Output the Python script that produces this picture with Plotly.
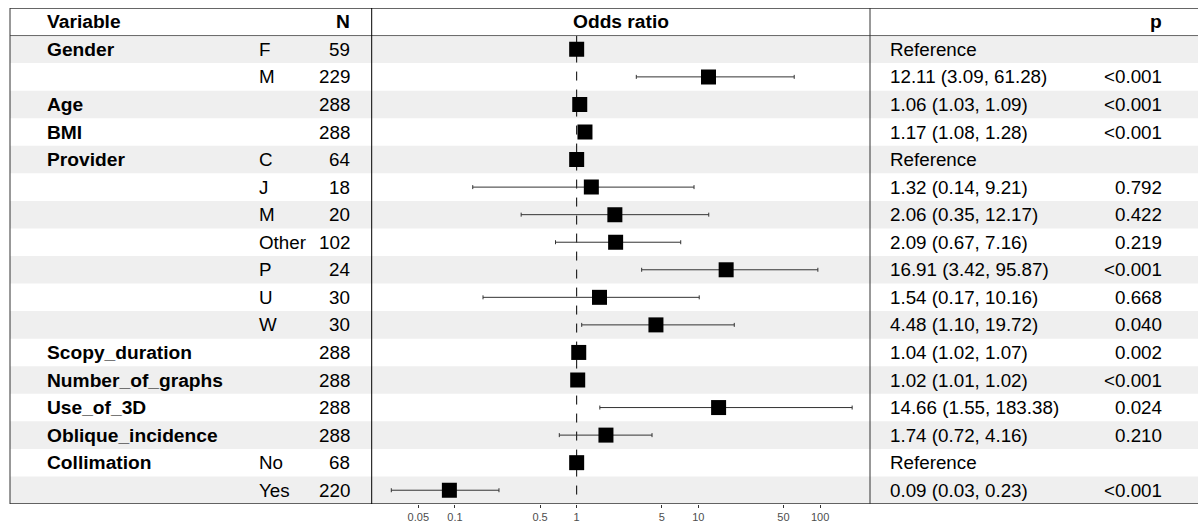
import plotly.graph_objects as go
import numpy as np

# ---------------- data ----------------
variables = ["Gender", "", "Age", "BMI", "Provider", "", "", "", "", "", "",
             "Scopy_duration", "Number_of_graphs", "Use_of_3D", "Oblique_incidence",
             "Collimation", ""]
levels = ["F", "M", "", "", "C", "J", "M", "Other", "P", "U", "W",
          "", "", "", "", "No", "Yes"]
n_values = [59, 229, 288, 288, 64, 18, 20, 102, 24, 30, 30, 288, 288, 288, 288, 68, 220]
is_reference = [True, False, False, False, True, False, False, False, False, False, False,
                False, False, False, False, True, False]
estimates = [1, 12.11, 1.06, 1.17, 1, 1.32, 2.06, 2.09, 16.91, 1.54, 4.48,
             1.04, 1.02, 14.66, 1.74, 1, 0.09]
ci_low = [1, 3.09, 1.03, 1.08, 1, 0.14, 0.35, 0.67, 3.42, 0.17, 1.10,
          1.02, 1.01, 1.55, 0.72, 1, 0.03]
ci_high = [1, 61.28, 1.09, 1.28, 1, 9.21, 12.17, 7.16, 95.87, 10.16, 19.72,
           1.07, 1.02, 183.38, 4.16, 1, 0.23]
p_values = ["", "<0.001", "<0.001", "<0.001", "", "0.792", "0.422", "0.219", "<0.001",
            "0.668", "0.040", "0.002", "<0.001", "0.024", "0.210", "", "<0.001"]
tick_values = [0.05, 0.1, 0.5, 1, 5, 10, 50, 100]
tick_labels = ["0.05", "0.1", "0.5", "1", "5", "10", "50", "100"]
headers = {"variable": "Variable", "n": "N", "or": "Odds ratio", "p": "p"}

# ---------------- layout constants ----------------
W, H = 1198, 524
nrows = len(estimates)
rows_y = [-(i + 1) for i in range(nrows)]
FONT = "Liberation Sans, Arial, sans-serif"
FS = 18.8
FS_B = 19.2
LINE = "#333333"

def px(x):
    return x / W

x_var, x_lvl, x_n, x_est, x_p = px(45), px(257), px(352), px(888), px(1164)
panel_l, panel_r = px(371.7), px(870)

est_text = []
for i in range(nrows):
    if is_reference[i]:
        est_text.append("Reference")
    else:
        est_text.append(f"{estimates[i]:.2f} ({ci_low[i]:.2f}, {ci_high[i]:.2f})")

err_plus = [h - e for h, e in zip(ci_high, estimates)]
err_minus = [e - l for e, l in zip(estimates, ci_low)]

fig = go.Figure()

# reference dashed line at OR = 1
fig.add_trace(go.Scatter(
    x=[1, 1], y=[-0.5, -(nrows + 0.5)], mode="lines",
    line=dict(color="black", width=1, dash="dash"),
    hoverinfo="skip", showlegend=False))

fig.add_trace(go.Scatter(
    x=estimates, y=rows_y, mode="markers",
    marker=dict(symbol="square", size=15, color="black", line=dict(width=0)),
    error_x=dict(type="data", symmetric=False, array=err_plus, arrayminus=err_minus,
                 color=LINE, thickness=1, width=2),
    showlegend=False))

shapes = []
# shaded rows
for i, y in enumerate(rows_y):
    if i % 2 == 0:
        shapes.append(dict(type="rect", xref="paper", yref="y", x0=px(10), x1=1.0,
                           y0=y - 0.5, y1=y + 0.5, fillcolor="#EFEFEF",
                           line=dict(width=0), layer="below"))
# borders
shapes += [
    dict(type="line", xref="paper", yref="y", x0=px(10), x1=1.0, y0=0.5, y1=0.5,
         line=dict(color=LINE, width=1.5)),
    dict(type="line", xref="paper", yref="y", x0=px(10), x1=1.0, y0=-0.5, y1=-0.5,
         line=dict(color="#666666", width=1)),
    dict(type="line", xref="paper", yref="y", x0=px(10), x1=1.0,
         y0=-(nrows + 0.5), y1=-(nrows + 0.5), line=dict(color=LINE, width=1.5)),
    dict(type="line", xref="paper", yref="y", x0=px(10), x1=px(10),
         y0=0.5, y1=-(nrows + 0.5), line=dict(color=LINE, width=1)),
    dict(type="line", xref="paper", yref="y", x0=panel_l, x1=panel_l,
         y0=0.5, y1=-(nrows + 0.5), line=dict(color="black", width=1)),
    dict(type="line", xref="paper", yref="y", x0=panel_r, x1=panel_r,
         y0=0.5, y1=-(nrows + 0.5), line=dict(color=LINE, width=1)),
]

annotations = []
def txt(x, y, s, anchor, bold=False):
    annotations.append(dict(
        x=x, y=y, xref="paper", yref="y", text=f"<b>{s}</b>" if bold else s,
        showarrow=False, xanchor=anchor, yanchor="middle",
        font=dict(family=FONT, size=FS_B if bold else FS, color="black")))

# headers
txt(x_var, 0, headers["variable"], "left", True)
txt(x_n, 0, headers["n"], "right", True)
txt((panel_l + panel_r) / 2, 0, headers["or"], "center", True)
txt(x_p, 0, headers["p"], "right", True)

for i, y in enumerate(rows_y):
    if variables[i]:
        txt(x_var, y, variables[i], "left", True)
    if levels[i]:
        txt(x_lvl, y, levels[i], "left")
    txt(x_n, y, str(n_values[i]), "right")
    txt(x_est, y, est_text[i], "left")
    if p_values[i]:
        txt(x_p, y, p_values[i], "right")

xmin, xmax = 10 ** -1.684, 10 ** 2.410
fig.update_layout(
    width=W, height=H,
    margin=dict(l=0, r=0, t=8, b=20),
    paper_bgcolor="white", plot_bgcolor="rgba(0,0,0,0)",
    shapes=shapes, annotations=annotations,
    xaxis=dict(type="log", domain=[panel_l, panel_r],
               range=[np.log10(xmin), np.log10(xmax)],
               tickvals=tick_values, ticktext=tick_labels,
               ticks="outside", ticklen=3, tickcolor=LINE,
               tickfont=dict(family=FONT, size=11, color="#4D4D4D"),
               showgrid=False, zeroline=False, showline=False),
    yaxis=dict(range=[-(nrows + 0.5), 0.5], visible=False, fixedrange=True),
    showlegend=False,
)

fig.write_html("out.html", config={"displayModeBar": False})

# remove the browser's default body margin so the figure sits at (0, 0)
with open("out.html", "r", encoding="utf-8") as f:
    html = f.read()
html = html.replace("<body>", '<body style="margin:0;padding:0;overflow:hidden;">', 1)
with open("out.html", "w", encoding="utf-8") as f:
    f.write(html)
